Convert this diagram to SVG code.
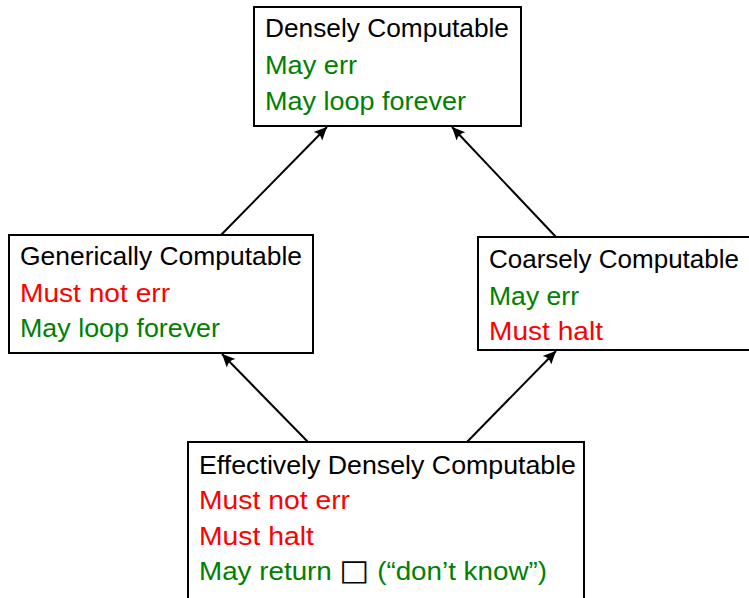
<svg xmlns="http://www.w3.org/2000/svg" width="749" height="598" viewBox="0 0 749 598">
<style>
.box{fill:#fff;stroke:#000;stroke-width:2}
text{font-family:"Liberation Sans",Arial,sans-serif;font-size:25.5px}
.k{fill:#000}.g{fill:#008000}.r{fill:#ff0000}
.edge{stroke:#000;stroke-width:2;fill:none;marker-end:url(#ah)}
</style>
<defs>
<marker id="ah" viewBox="-14 -7 15 14" markerWidth="15" markerHeight="14" refX="0" refY="0" orient="auto" markerUnits="userSpaceOnUse">
<path d="M0,0 L-13,-6 Q-9,0 -13,6 Z" fill="#000"/>
</marker>
</defs>
<g id="connectors">
<line class="edge" x1="221" y1="235" x2="327" y2="127"/>
<line class="edge" x1="556" y1="237" x2="452" y2="127"/>
<line class="edge" x1="308" y1="442" x2="222" y2="354"/>
<line class="edge" x1="467" y1="442" x2="556" y2="351"/>
</g>
<g id="densely">
<rect class="box" x="254" y="7" width="267" height="119"/>
<text class="k" x="265" y="37" textLength="244" lengthAdjust="spacingAndGlyphs">Densely Computable</text>
<text class="g" x="265" y="74" textLength="92" lengthAdjust="spacingAndGlyphs">May err</text>
<text class="g" x="265" y="110" textLength="201" lengthAdjust="spacingAndGlyphs">May loop forever</text>
</g>
<g id="generically">
<rect class="box" x="9" y="235" width="304" height="118"/>
<text class="k" x="20" y="265" textLength="282" lengthAdjust="spacingAndGlyphs">Generically Computable</text>
<text class="r" x="20" y="302" textLength="150" lengthAdjust="spacingAndGlyphs">Must not err</text>
<text class="g" x="20" y="337" textLength="200" lengthAdjust="spacingAndGlyphs">May loop forever</text>
</g>
<g id="coarsely">
<rect class="box" x="478" y="237" width="280" height="113"/>
<text class="k" x="489" y="268" textLength="250" lengthAdjust="spacingAndGlyphs">Coarsely Computable</text>
<text class="g" x="489" y="305" textLength="90" lengthAdjust="spacingAndGlyphs">May err</text>
<text class="r" x="489" y="340" textLength="114" lengthAdjust="spacingAndGlyphs">Must halt</text>
</g>
<g id="effectively">
<rect class="box" x="188" y="442" width="396" height="170"/>
<text class="k" x="199" y="474" textLength="377" lengthAdjust="spacingAndGlyphs">Effectively Densely Computable</text>
<text class="r" x="199" y="509" textLength="151" lengthAdjust="spacingAndGlyphs">Must not err</text>
<text class="r" x="199" y="545" textLength="115" lengthAdjust="spacingAndGlyphs">Must halt</text>
<text class="g" x="199" y="580" textLength="348" lengthAdjust="spacingAndGlyphs">May return <tspan class="k" style="font-family:'DejaVu Sans',sans-serif;font-size:29px">□</tspan> (“don’t know”)</text>
</g>
</svg>
